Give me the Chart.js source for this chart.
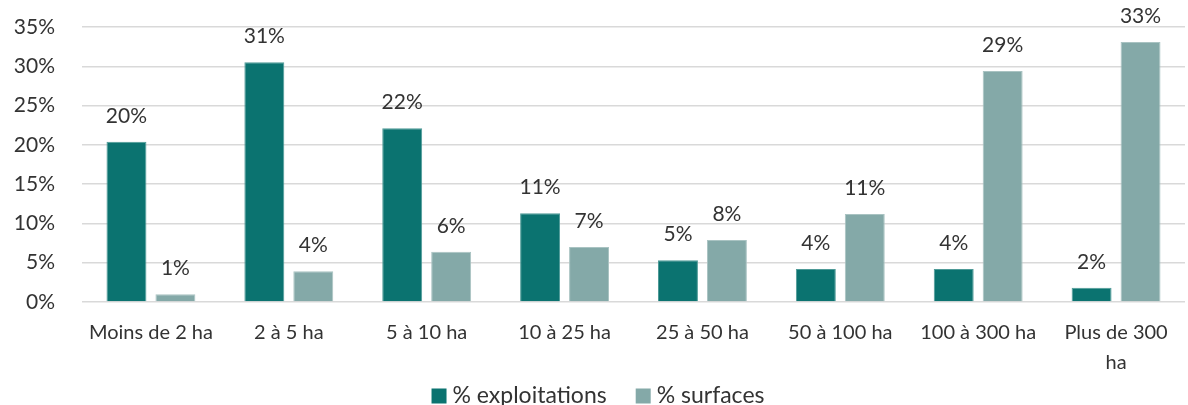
<!DOCTYPE html>
<html>
<head>
<meta charset="utf-8">
<script src="https://cdn.jsdelivr.net/npm/chart.js@4"></script>
<style>
  html, body { margin: 0; padding: 0; background: #fff; }
  #wrap { width: 1188px; height: 405px; }
</style>
</head>
<body>
<div id="wrap"><canvas id="myChart"></canvas></div>
<script>
// Data
const categories = ["Moins de 2 ha", "2 à 5 ha", "5 à 10 ha", "10 à 25 ha", "25 à 50 ha", "50 à 100 ha", "100 à 300 ha", ["Plus de 300", "ha"]];
const exploitations = [20.4, 30.5, 22.1, 11.3, 5.3, 4.2, 4.2, 1.8];
const surfaces = [1.0, 3.9, 6.4, 7.0, 7.9, 11.2, 29.4, 33.1];
const yTicks = [0, 5, 10, 15, 20, 25, 30, 35];

const FONT = "Lato, 'Open Sans', sans-serif";
const TEXT = "#333333";

// Value labels above each bar
const barLabels = {
    id: "barLabels",
    afterDatasetsDraw(chart) {
        const ctx = chart.ctx;
        ctx.save();
        ctx.font = "21px " + FONT;
        ctx.fillStyle = TEXT;
        ctx.textAlign = "center";
        ctx.textBaseline = "alphabetic";
        chart.data.datasets.forEach((ds, i) => {
            chart.getDatasetMeta(i).data.forEach((bar, j) => {
                ctx.fillText(Math.round(ds.data[j]) + "%", bar.x, bar.y - 19);
            });
        });
        ctx.restore();
    }
};

// Legend drawn at the bottom, centred
const bottomLegend = {
    id: "bottomLegend",
    afterDraw(chart) {
        const ctx = chart.ctx;
        ctx.save();
        ctx.font = "23px " + FONT;
        ctx.textBaseline = "middle";
        const box = 15, gapText = 6, gapItem = 29;
        const items = chart.data.datasets.map(ds => ({
            label: ds.label, color: ds.backgroundColor, w: ctx.measureText(ds.label).width
        }));
        let total = 0;
        items.forEach((it, i) => { total += box + gapText + it.w + (i ? gapItem : 0); });
        let x = chart.width / 2 - total / 2 + 4;
        const y = 396;
        items.forEach(it => {
            ctx.fillStyle = it.color;
            ctx.fillRect(x, y - box / 2, box, box);
            x += box + gapText;
            ctx.fillStyle = TEXT;
            ctx.fillText(it.label, x, y);
            x += it.w + gapItem;
        });
        ctx.restore();
    }
};

const ctx = document.getElementById("myChart").getContext("2d");
const myChart = new Chart(ctx, {
    type: "bar",
    data: {
        labels: categories,
        datasets: [{
            label: "% exploitations",
            data: exploitations,
            backgroundColor: "#0B7370",
            borderColor: "#4E9A97",
            borderWidth: 1
        }, {
            label: "% surfaces",
            data: surfaces,
            backgroundColor: "#84A9A8",
            borderColor: "#A9C3C2",
            borderWidth: 1
        }]
    },
    options: {
        responsive: true,
        maintainAspectRatio: false,
        animation: false,
        layout: { padding: { top: 27, right: 3, left: 0, bottom: 21 } },
        datasets: {
            bar: { barPercentage: 0.816, categoryPercentage: 0.71 }
        },
        plugins: {
            tooltip: { enabled: false },
            legend: { display: false }
        },
        scales: {
            x: {
                grid: { display: false },
                border: { display: false },
                ticks: {
                    font: { family: FONT, size: 20, lineHeight: 1.5 },
                    color: TEXT,
                    padding: 8,
                    maxRotation: 0,
                    autoSkip: false
                },
                afterFit(scale) {
                    scale.height = 82;
                    scale.paddingLeft = 0;
                    scale.paddingRight = 0;
                }
            },
            y: {
                min: 0,
                max: 35,
                afterBuildTicks(scale) { scale.ticks = yTicks.map(v => ({ value: v })); },
                grid: { color: "#D9D9D9", lineWidth: 1.5, drawTicks: false },
                border: { display: false },
                ticks: {
                    font: { family: FONT, size: 21 },
                    color: TEXT,
                    padding: 27,
                    callback: v => v + "%"
                },
                afterFit(scale) {
                    scale.width = 82;
                    scale.paddingTop = 0;
                    scale.paddingBottom = 0;
                }
            }
        }
    },
    plugins: [barLabels, bottomLegend]
});
</script>
</body>
</html>
